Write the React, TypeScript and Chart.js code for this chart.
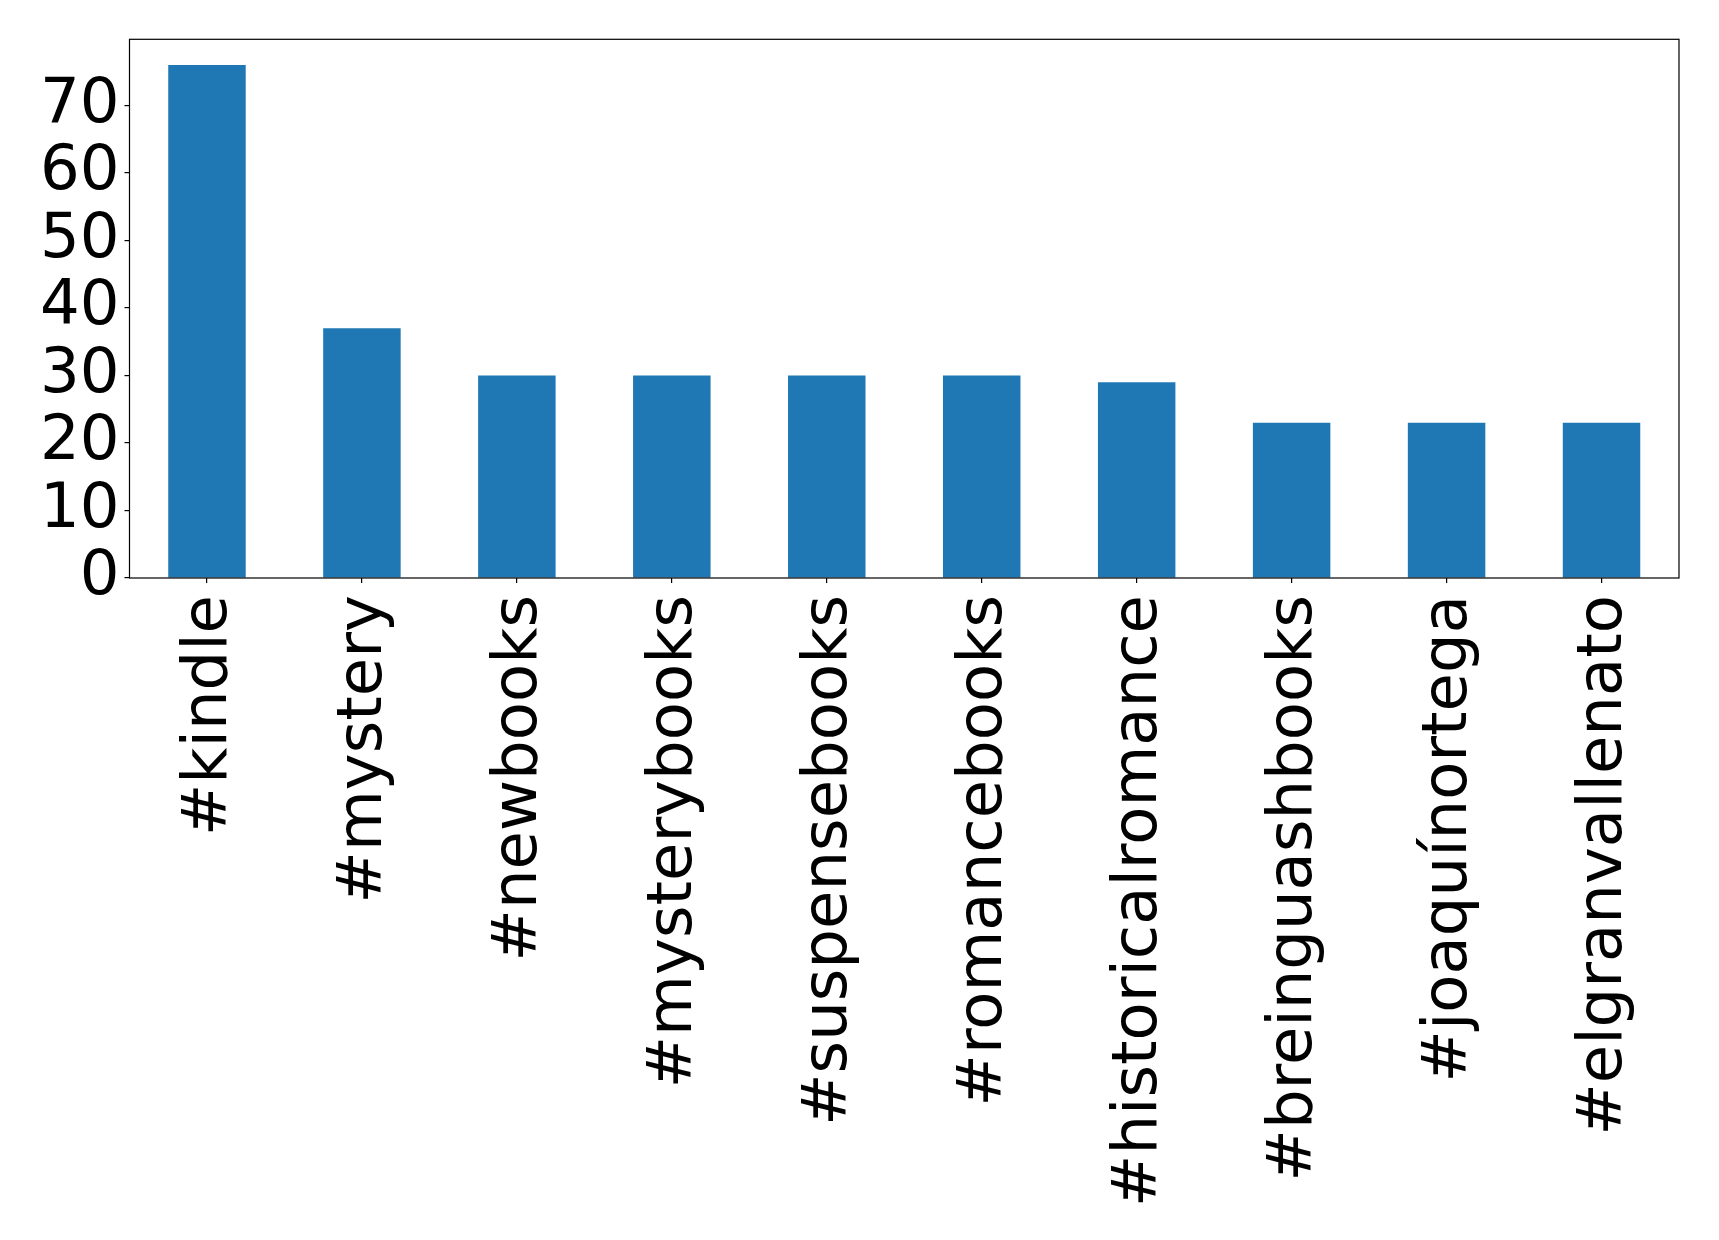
import React, { useEffect, useRef } from "react";
import { Chart, registerables } from "chart.js";

Chart.register(...registerables);

const categories = [
  "#kindle",
  "#mystery",
  "#newbooks",
  "#mysterybooks",
  "#suspensebooks",
  "#romancebooks",
  "#historicalromance",
  "#breinguashbooks",
  "#joaquínortega",
  "#elgranvallenato",
];
const counts = [76, 37, 30, 30, 30, 30, 29, 23, 23, 23];
const yMax = 79.8;
const yStep = 10;

const W = 1719;
const H = 1240;

const frame = {
  id: "frame",
  afterDraw(chart: any) {
    const { ctx, chartArea } = chart;
    ctx.save();
    ctx.strokeStyle = "#000";
    ctx.lineWidth = 1.2;
    ctx.strokeRect(chartArea.left, chartArea.top, chartArea.right - chartArea.left, chartArea.bottom - chartArea.top);
    ctx.restore();
  },
};

export default function App() {
  const ref = useRef<HTMLCanvasElement | null>(null);
  useEffect(() => {
    if (!ref.current) return;
    const font = { family: "'DejaVu Sans', sans-serif", size: 62.5 };
    const chart = new Chart(ref.current, {
      type: "bar",
      data: {
        labels: categories,
        datasets: [
          {
            data: counts,
            backgroundColor: "#1f77b4",
            barPercentage: 0.5,
            categoryPercentage: 1,
          },
        ],
      },
      options: {
        animation: false,
        responsive: false,
        devicePixelRatio: 1,
        layout: { padding: { left: 0, top: 39.3, right: 40, bottom: 0 } },
        plugins: { legend: { display: false }, tooltip: { enabled: false } },
        scales: {
          x: {
            offset: true,
            grid: { offset: false, drawOnChartArea: false, drawTicks: true, tickLength: 5, color: "#000", lineWidth: 1.2 },
            border: { display: false },
            ticks: { font, color: "#000", minRotation: 90, maxRotation: 90, padding: 12, autoSkip: false, labelOffset: 3 },
            afterFit(scale: any) {
              scale.height = 662;
              scale.paddingLeft = 0;
              scale.paddingRight = 0;
            },
          },
          y: {
            min: 0,
            max: yMax,
            grid: { drawOnChartArea: false, drawTicks: true, tickLength: 5, color: "#000", lineWidth: 1.2 },
            border: { display: false },
            ticks: { font, color: "#000", stepSize: yStep, includeBounds: false, padding: 5, autoSkip: false },
            afterFit(scale: any) {
              scale.width = 129.5;
              scale.paddingTop = 0;
              scale.paddingBottom = 0;
            },
          },
        },
      },
      plugins: [frame],
    });
    return () => chart.destroy();
  }, []);
  return (
    <div style={{ position: "fixed", left: 0, top: 0, width: W, height: H, background: "#fff" }}>
      <canvas ref={ref} width={W} height={H} style={{ width: W, height: H }} />
    </div>
  );
}
